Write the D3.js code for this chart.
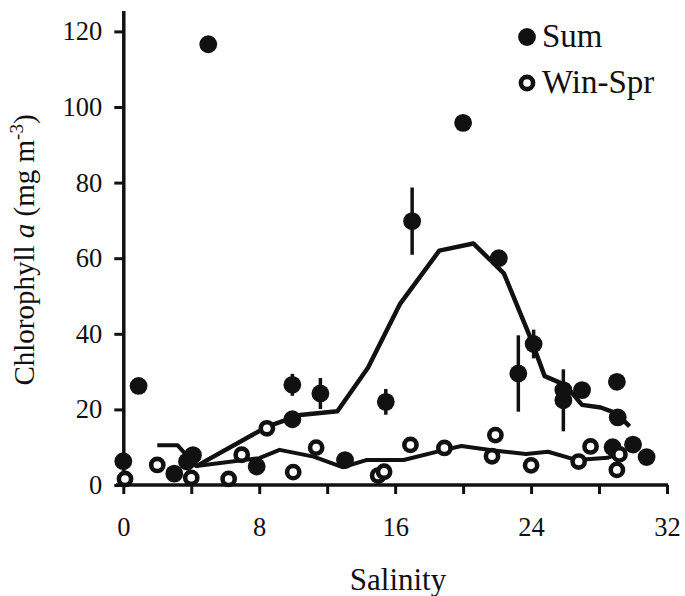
<!DOCTYPE html>
<html>
<head>
<meta charset="utf-8">
<script src="https://cdn.jsdelivr.net/npm/d3@7"></script>
<style>
  body { margin: 0; background: #fff; }
  svg text { font-family: 'Liberation Serif', 'Tinos', 'Times New Roman', 'DejaVu Serif', serif !important; fill: #111; }
</style>
</head>
<body>
<div id="chart"></div>
<script>
    // summer observations (filled) : salinity, chl a, error half-length
    var sumSal = [0, 0.9, 3.0, 3.75, 4.1, 5.0, 7.85, 9.95, 9.95, 11.6, 13.05, 15.45, 17.0, 20.0, 22.1, 23.25, 24.15, 25.9, 25.9, 27.0, 29.05, 29.1, 28.8, 30.0, 30.8];
    var sumChl = [6.3, 26.2, 3.0, 6.2, 7.9, 116.6, 4.9, 17.4, 26.5, 24.2, 6.6, 22.0, 69.8, 95.8, 60.0, 29.5, 37.3, 25.1, 22.4, 25.1, 27.3, 17.9, 10.0, 10.7, 7.4];
    var sumErr = [0, 0, 0, 0, 0, 1.5, 0, 0, 2.9, 4.1, 0, 3.4, 8.9, 0, 1.2, 10.1, 3.8, 0, 8.2, 0, 0, 1.2, 0, 0, 0];

    // winter-spring observations (open)
    var winSal = [0.1, 2.0, 4.0, 6.2, 6.97, 8.45, 10.0, 11.35, 15.0, 15.35, 16.9, 18.9, 21.9, 21.7, 24.0, 26.8, 27.5, 29.05, 29.2];
    var winChl = [1.6, 5.3, 1.9, 1.6, 8.0, 15.0, 3.4, 9.9, 2.5, 3.5, 10.6, 9.8, 13.2, 7.6, 5.2, 6.2, 10.2, 4.0, 8.1];

    // smoothed curves
    var sumFitSal = [4.3, 8.5, 10.4, 12.6, 14.4, 16.3, 18.6, 20.6, 22.4, 24.0, 24.8, 26.0, 27.0, 28.1, 29.0, 29.8];
    var sumFitChl = [5.0, 15.5, 18.5, 19.5, 31.0, 48.0, 62.0, 63.9, 56.0, 38.5, 28.8, 26.5, 21.2, 20.5, 19.0, 15.5];
    var winFitSal = [2.0, 3.2, 4.3, 8.0, 9.2, 11.2, 12.9, 14.3, 16.5, 18.9, 19.9, 21.8, 23.7, 25.0, 26.7, 28.5, 29.2];
    var winFitChl = [10.5, 10.5, 5.0, 7.1, 9.3, 7.5, 4.7, 6.6, 6.6, 9.3, 10.3, 9.1, 8.2, 8.8, 6.6, 7.2, 8.4];

    var xTicks = [0, 4, 8, 12, 16, 20, 24, 28, 32];
    var xLabels = ["0", "", "8", "", "16", "", "24", "", "32"];
    var yTicks = [0, 20, 40, 60, 80, 100, 120];

    var serif = "'Liberation Serif', 'Tinos', 'Times New Roman', 'DejaVu Serif', serif";

    var svg = d3.select("#chart")
                .append("svg")
                .attr("width", 685)
                .attr("height", 596);

    var xScale = d3.scaleLinear().domain([0, 32]).range([123.3, 667]);
    var yScale = d3.scaleLinear().domain([0, 125.5]).range([485, 10.6]);

    var sumPts = sumSal.map((s, i) => ({ s: s, c: sumChl[i], e: sumErr[i] }));
    var winPts = winSal.map((s, i) => ({ s: s, c: winChl[i] }));

    var line = d3.line()
                 .x(d => xScale(d[0]))
                 .y(d => yScale(d[1]));

    // axes
    var xAxis = svg.append("g")
       .attr("transform", "translate(0,485)")
       .call(d3.axisBottom(xScale).tickValues(xTicks)
             .tickFormat((d, i) => xLabels[i])
             .tickSize(9).tickSizeOuter(0).tickPadding(23));

    var yAxis = svg.append("g")
       .attr("transform", "translate(123.3,0)")
       .call(d3.axisLeft(yScale).tickValues(yTicks)
             .tickSize(9).tickSizeOuter(0).tickPadding(12));

    [xAxis, yAxis].forEach(function (g) {
      g.attr("font-family", null);
      g.select(".domain").attr("stroke", "#111").attr("stroke-width", 3.5);
      g.selectAll(".tick line").attr("stroke", "#111").attr("stroke-width", 3);
      g.selectAll(".tick text")
       .style("font-family", serif)
       .attr("font-size", 26.5)
       .attr("fill", "#111");
    });

    // x axis line runs a little past the y axis, like the original
    xAxis.select(".domain").attr("d", "M116,0H668");

    // curves
    svg.append("path")
       .datum(sumFitSal.map((s, i) => [s, sumFitChl[i]]))
       .attr("fill", "none")
       .attr("stroke", "#111")
       .attr("stroke-width", 4.5)
       .attr("stroke-linejoin", "round")
       .attr("d", line);

    svg.append("path")
       .datum(winFitSal.map((s, i) => [s, winFitChl[i]]))
       .attr("fill", "none")
       .attr("stroke", "#111")
       .attr("stroke-width", 4)
       .attr("stroke-linejoin", "round")
       .attr("d", line);

    // error bars
    svg.selectAll("line.err")
       .data(sumPts.filter(d => d.e > 0))
       .enter()
       .append("line")
       .attr("class", "err")
       .attr("x1", d => xScale(d.s))
       .attr("x2", d => xScale(d.s))
       .attr("y1", d => yScale(d.c - d.e))
       .attr("y2", d => yScale(d.c + d.e))
       .attr("stroke", "#111")
       .attr("stroke-width", 3.5);

    svg.selectAll("circle.sum")
       .data(sumPts)
       .enter()
       .append("circle")
       .attr("class", "sum")
       .attr("r", 8.9)
       .attr("fill", "#111")
       .attr("cx", d => xScale(d.s))
       .attr("cy", d => yScale(d.c));

    svg.selectAll("circle.win")
       .data(winPts)
       .enter()
       .append("circle")
       .attr("class", "win")
       .attr("r", 6.1)
       .attr("fill", "#fff")
       .attr("stroke", "#111")
       .attr("stroke-width", 4.6)
       .attr("cx", d => xScale(d.s))
       .attr("cy", d => yScale(d.c));

    // legend
    var legend = svg.append("g");
    legend.append("circle").attr("cx", 527).attr("cy", 37).attr("r", 8.9).attr("fill", "#111");
    legend.append("circle").attr("cx", 527).attr("cy", 83).attr("r", 6.1)
          .attr("fill", "#fff").attr("stroke", "#111").attr("stroke-width", 4.6);
    legend.append("text").attr("x", 542).attr("y", 47).attr("font-size", 33).style("font-family", serif).text("Sum");
    legend.append("text").attr("x", 542).attr("y", 93).attr("font-size", 33).style("font-family", serif).text("Win-Spr");

    // axis titles
    svg.append("text")
       .attr("x", 398)
       .attr("y", 590)
       .attr("font-size", 31)
       .style("font-family", serif)
       .style("text-anchor", "middle")
       .text("Salinity");

    var yt = svg.append("text")
       .attr("transform", "translate(34,250) rotate(-90)")
       .attr("font-size", 29)
       .style("font-family", serif)
       .style("text-anchor", "middle");
    yt.append("tspan").text("Chlorophyll ");
    yt.append("tspan").attr("font-style", "italic").text("a");
    yt.append("tspan").text(" (mg m");
    yt.append("tspan").attr("font-size", 19).attr("dy", -11).text("-3");
    yt.append("tspan").attr("dy", 11).text(")");
</script>
</body>
</html>
